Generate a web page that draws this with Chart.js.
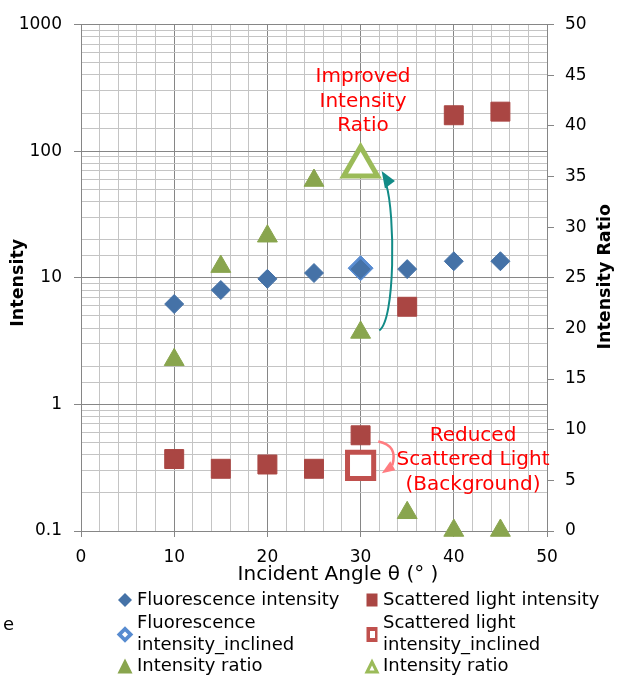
<!DOCTYPE html>
<html>
<head>
<meta charset="utf-8">
<script src="https://cdn.jsdelivr.net/npm/chart.js@4.4.1/dist/chart.umd.min.js"></script>
<style>
  html, body { margin: 0; padding: 0; background: #fff; }
</style>
</head>
<body>
<canvas id="grafico" width="618" height="677"></canvas>
<script>
// ── Data ──────────────────────────────────────────────
var ANGLES           = [10, 15, 20, 25, 30, 35, 40, 45];
var FLUORESCENCE     = [6.2, 8.0, 9.8, 10.9, 11.7, 11.7, 13.5, 13.5];
var SCATTERED        = [0.37, 0.31, 0.335, 0.31, 0.57, 5.9, 192, 205];
var RATIO            = [16.9, 26.1, 29.1, 34.6, 19.6, 1.8, 0.05, 0.05];
var ANGLES_INCLINED  = [30];
var FLUOR_INCLINED   = [11.9];
var SCATTER_INCLINED = [0.33];
var RATIO_INCLINED   = [36.0];

var LEFT_TICKS  = [0.1, 1, 10, 100, 1000];

// ── Palette ───────────────────────────────────────────
var BLUE        = '#4572a7';
var BLUE_LIGHT  = '#578bd0';
var RED         = '#aa4643';
var RED_LIGHT   = '#c0504d';
var GREEN       = '#89a54e';
var GREEN_LIGHT = '#9bbb59';
var GRID_MINOR  = '#c4c4c4';
var GRID_MAJOR  = '#868686';
var TEAL        = '#128b87';
var PINK        = '#ff7c80';
var FONT        = "'DejaVu Sans', sans-serif";

Chart.defaults.font.family = FONT;
Chart.defaults.font.size   = 17;
Chart.defaults.color       = '#000';

function pairs(xs, ys) {
  var out = [];
  for (var i = 0; i < xs.length; i++) out.push({ x: xs[i], y: ys[i] });
  return out;
}

function isDecade(v) {
  var l = Math.log10(v);
  return Math.abs(l - Math.round(l)) < 1e-6;
}

// ── Annotations: text and arrows, anchored in data units ──
var anotacoes = {
  id: 'anotacoes',
  afterDatasetsDraw: function(chart) {
    var ctx = chart.ctx;
    var sx = chart.scales.x, sl = chart.scales.y, sr = chart.scales.y1;
    ctx.save();

    // teal arrow (ratio axis)
    var p0x = sx.getPixelForValue(32.0), p0y = sr.getPixelForValue(19.8);
    var p3x = sx.getPixelForValue(32.75), p3y = sr.getPixelForValue(34.2);
    ctx.strokeStyle = TEAL;
    ctx.lineWidth = 2;
    ctx.beginPath();
    ctx.moveTo(p0x, p0y);
    ctx.bezierCurveTo(p0x + 16, p0y - 10, p0x + 16, p3y + 30, p3x, p3y);
    ctx.stroke();
    ctx.fillStyle = TEAL;
    ctx.beginPath();
    ctx.moveTo(p3x + 8.7, p3y - 3.5);
    ctx.lineTo(p3x - 4.6, p3y - 13.5);
    ctx.lineTo(p3x - 1.3, p3y + 3.9);
    ctx.closePath();
    ctx.fill();

    // pink arrow (intensity axis)
    var q0x = sx.getPixelForValue(31.9), q0y = sl.getPixelForValue(0.51);
    var q2x = sx.getPixelForValue(33.4), q2y = sl.getPixelForValue(0.33);
    ctx.strokeStyle = PINK;
    ctx.lineWidth = 2.5;
    ctx.beginPath();
    ctx.moveTo(q0x, q0y);
    ctx.quadraticCurveTo(q0x + 20, q0y + 4, q2x, q2y);
    ctx.stroke();
    ctx.fillStyle = PINK;
    ctx.beginPath();
    ctx.moveTo(q2x - 10.5, q2y + 8);
    ctx.lineTo(q2x - 2, q2y - 4);
    ctx.lineTo(q2x + 3, q2y + 5);
    ctx.closePath();
    ctx.fill();

    // red texts
    ctx.fillStyle = '#ff0000';
    ctx.font = '20px ' + FONT;
    ctx.textAlign = 'center';
    ctx.textBaseline = 'middle';
    var t1 = ['Improved', 'Intensity', 'Ratio'];
    var ax = sx.getPixelForValue(30.26), ay = sr.getPixelForValue(44.8);
    for (var i = 0; i < t1.length; i++) ctx.fillText(t1[i], ax, ay + i * 24.5);
    var t2 = ['Reduced', 'Scattered Light', '(Background)'];
    var bx = sx.getPixelForValue(42.06), by = sr.getPixelForValue(9.4);
    for (var j = 0; j < t2.length; j++) ctx.fillText(t2[j], bx, by + j * 24.5);
    ctx.restore();
  }
};

// ── Axis titles and legend drawn by hand ──────────────
function marker(ctx, kind, cx, cy) {
  ctx.beginPath();
  if (kind === 'diamond' || kind === 'diamondHollow') {
    var d = kind === 'diamond' ? 7 : 8.3;
    ctx.fillStyle = kind === 'diamond' ? BLUE : BLUE_LIGHT;
    ctx.moveTo(cx, cy - d); ctx.lineTo(cx + d, cy); ctx.lineTo(cx, cy + d); ctx.lineTo(cx - d, cy);
    ctx.closePath(); ctx.fill();
    if (kind === 'diamondHollow') {
      ctx.fillStyle = '#fff'; ctx.beginPath();
      ctx.moveTo(cx, cy - 3); ctx.lineTo(cx + 3, cy); ctx.lineTo(cx, cy + 3); ctx.lineTo(cx - 3, cy);
      ctx.closePath(); ctx.fill();
    }
  } else if (kind === 'square') {
    ctx.fillStyle = RED;
    ctx.fillRect(cx - 5.5, cy - 6.5, 11, 13);
  } else if (kind === 'squareHollow') {
    ctx.fillStyle = RED_LIGHT;
    ctx.fillRect(cx - 5.5, cy - 7.5, 11, 15);
    ctx.fillStyle = '#fff';
    ctx.fillRect(cx - 2, cy - 3.5, 5, 7);
  } else {
    ctx.fillStyle = kind === 'triangle' ? GREEN : GREEN_LIGHT;
    ctx.moveTo(cx, cy - 7.5); ctx.lineTo(cx + 7.5, cy + 7.5); ctx.lineTo(cx - 7.5, cy + 7.5);
    ctx.closePath(); ctx.fill();
    if (kind === 'triangleHollow') {
      ctx.fillStyle = '#fff'; ctx.beginPath();
      ctx.moveTo(cx, cy - 0.5); ctx.lineTo(cx + 2.5, cy + 4.5); ctx.lineTo(cx - 2.5, cy + 4.5);
      ctx.closePath(); ctx.fill();
    }
  }
}

var LEGEND = [
  { lines: ['Fluorescence intensity'], kind: 'diamond', col: 0, row: 0 },
  { lines: ['Fluorescence', 'intensity_inclined'], kind: 'diamondHollow', col: 0, row: 1 },
  { lines: ['Intensity ratio'], kind: 'triangle', col: 0, row: 2 },
  { lines: ['Scattered light intensity'], kind: 'square', col: 1, row: 0 },
  { lines: ['Scattered light', 'intensity_inclined'], kind: 'squareHollow', col: 1, row: 1 },
  { lines: ['Intensity ratio'], kind: 'triangleHollow', col: 1, row: 2 }
];

var moldura = {
  id: 'moldura',
  afterDraw: function(chart) {
    var ctx = chart.ctx, area = chart.chartArea;
    ctx.save();
    ctx.fillStyle = '#000';
    ctx.textBaseline = 'middle';

    // axis titles
    ctx.font = 'bold 17.5px ' + FONT;
    ctx.textAlign = 'center';
    ctx.save(); ctx.translate(18, (area.top + area.bottom) / 2 + 5); ctx.rotate(-Math.PI / 2);
    ctx.fillText('Intensity', 0, 0); ctx.restore();
    ctx.save(); ctx.translate(605, (area.top + area.bottom) / 2 - 1); ctx.rotate(-Math.PI / 2);
    ctx.fillText('Intensity Ratio', 0, 0); ctx.restore();
    ctx.font = '20px ' + FONT;
    ctx.fillText('Incident Angle \u03b8 (\u00b0 )', (area.left + area.right) / 2 + 24, area.bottom + 44);

    // legend
    var colMarker = [125, 372], colText = [137, 383], rowY = [600, 634.5, 666];
    ctx.font = '18px ' + FONT;
    ctx.textAlign = 'left';
    for (var i = 0; i < LEGEND.length; i++) {
      var it = LEGEND[i], cy = rowY[it.row];
      marker(ctx, it.kind, colMarker[it.col], cy);
      ctx.fillStyle = '#000';
      var y0 = cy - (it.lines.length - 1) * 11.25;
      for (var k = 0; k < it.lines.length; k++) ctx.fillText(it.lines[k], colText[it.col], y0 + k * 22.5);
    }
    ctx.fillText('e', 3, 625);
    ctx.restore();
  }
};

new Chart(document.getElementById('grafico'), {
  type: 'scatter',
  data: {
    datasets: [
      {
        label: 'Fluorescence intensity',
        data: pairs(ANGLES, FLUORESCENCE),
        yAxisID: 'y', pointStyle: 'rectRot', pointRadius: 9.5, clip: false,
        backgroundColor: BLUE, borderColor: BLUE, borderWidth: 1, order: 1
      },
      {
        label: 'Fluorescence intensity_inclined',
        data: pairs(ANGLES_INCLINED, FLUOR_INCLINED),
        yAxisID: 'y', pointStyle: 'rectRot', pointRadius: 12.5, clip: false,
        backgroundColor: BLUE_LIGHT, borderColor: BLUE_LIGHT, borderWidth: 1, order: 2
      },
      {
        label: 'Scattered light intensity',
        data: pairs(ANGLES, SCATTERED),
        yAxisID: 'y', pointStyle: 'rect', pointRadius: 13.4, clip: false,
        backgroundColor: RED, borderColor: RED, borderWidth: 1, order: 1
      },
      {
        label: 'Scattered light intensity_inclined',
        data: pairs(ANGLES_INCLINED, SCATTER_INCLINED),
        yAxisID: 'y', pointStyle: 'rect', pointRadius: 18.5, clip: false,
        backgroundColor: '#fff', borderColor: RED_LIGHT, borderWidth: 5, order: 0
      },
      {
        label: 'Intensity ratio',
        data: pairs(ANGLES, RATIO),
        yAxisID: 'y1', pointStyle: 'triangle', pointRadius: 11.5, clip: false,
        backgroundColor: GREEN, borderColor: GREEN, borderWidth: 1, order: 1
      },
      {
        label: 'Intensity ratio (inclined)',
        data: pairs(ANGLES_INCLINED, RATIO_INCLINED),
        yAxisID: 'y1', pointStyle: 'triangle', pointRadius: 19.5, clip: false,
        backgroundColor: '#fff', borderColor: GREEN_LIGHT, borderWidth: 5, order: 0
      }
    ]
  },
  options: {
    responsive: false,
    animation: false,
    layout: { padding: { top: 22, left: 0, right: 0, bottom: 0 } },
    plugins: { legend: { display: false }, tooltip: { enabled: false } },
    scales: {
      x: {
        type: 'linear', position: 'bottom', min: 0, max: 50,
        afterFit: function(s) { s.height = 146; },
        border: { color: GRID_MAJOR },
        grid: {
          tickLength: 6,
          color: function(c) { return c.tick && c.tick.value % 10 === 0 ? GRID_MAJOR : GRID_MINOR; },
          tickColor: function(c) { return c.tick && c.tick.value % 10 === 0 ? GRID_MAJOR : 'rgba(0,0,0,0)'; }
        },
        ticks: {
          stepSize: 2, autoSkip: false, maxRotation: 0, padding: 10,
          callback: function(v) { return v % 10 === 0 ? v : ''; }
        }
      },
      y: {
        type: 'logarithmic', position: 'left', min: LEFT_TICKS[0], max: LEFT_TICKS[LEFT_TICKS.length - 1],
        afterFit: function(s) { s.width = 81; },
        border: { color: GRID_MAJOR },
        grid: {
          tickLength: 7,
          color: function(c) { return c.tick && isDecade(c.tick.value) ? GRID_MAJOR : GRID_MINOR; },
          tickColor: function(c) { return c.tick && isDecade(c.tick.value) ? GRID_MAJOR : 'rgba(0,0,0,0)'; }
        },
        ticks: {
          autoSkip: false, padding: 12,
          callback: function(v) {
            for (var i = 0; i < LEFT_TICKS.length; i++) {
              if (Math.abs(v - LEFT_TICKS[i]) < LEFT_TICKS[i] * 1e-6) return String(LEFT_TICKS[i]);
            }
            return '';
          }
        }
      },
      y1: {
        type: 'linear', position: 'right', min: 0, max: 50,
        afterFit: function(s) { s.width = 71; },
        border: { color: GRID_MAJOR },
        grid: { drawOnChartArea: false, tickLength: 7, tickColor: GRID_MAJOR },
        ticks: { stepSize: 5, padding: 11 }
      }
    }
  },
  plugins: [anotacoes, moldura]
});
</script>
</body>
</html>
